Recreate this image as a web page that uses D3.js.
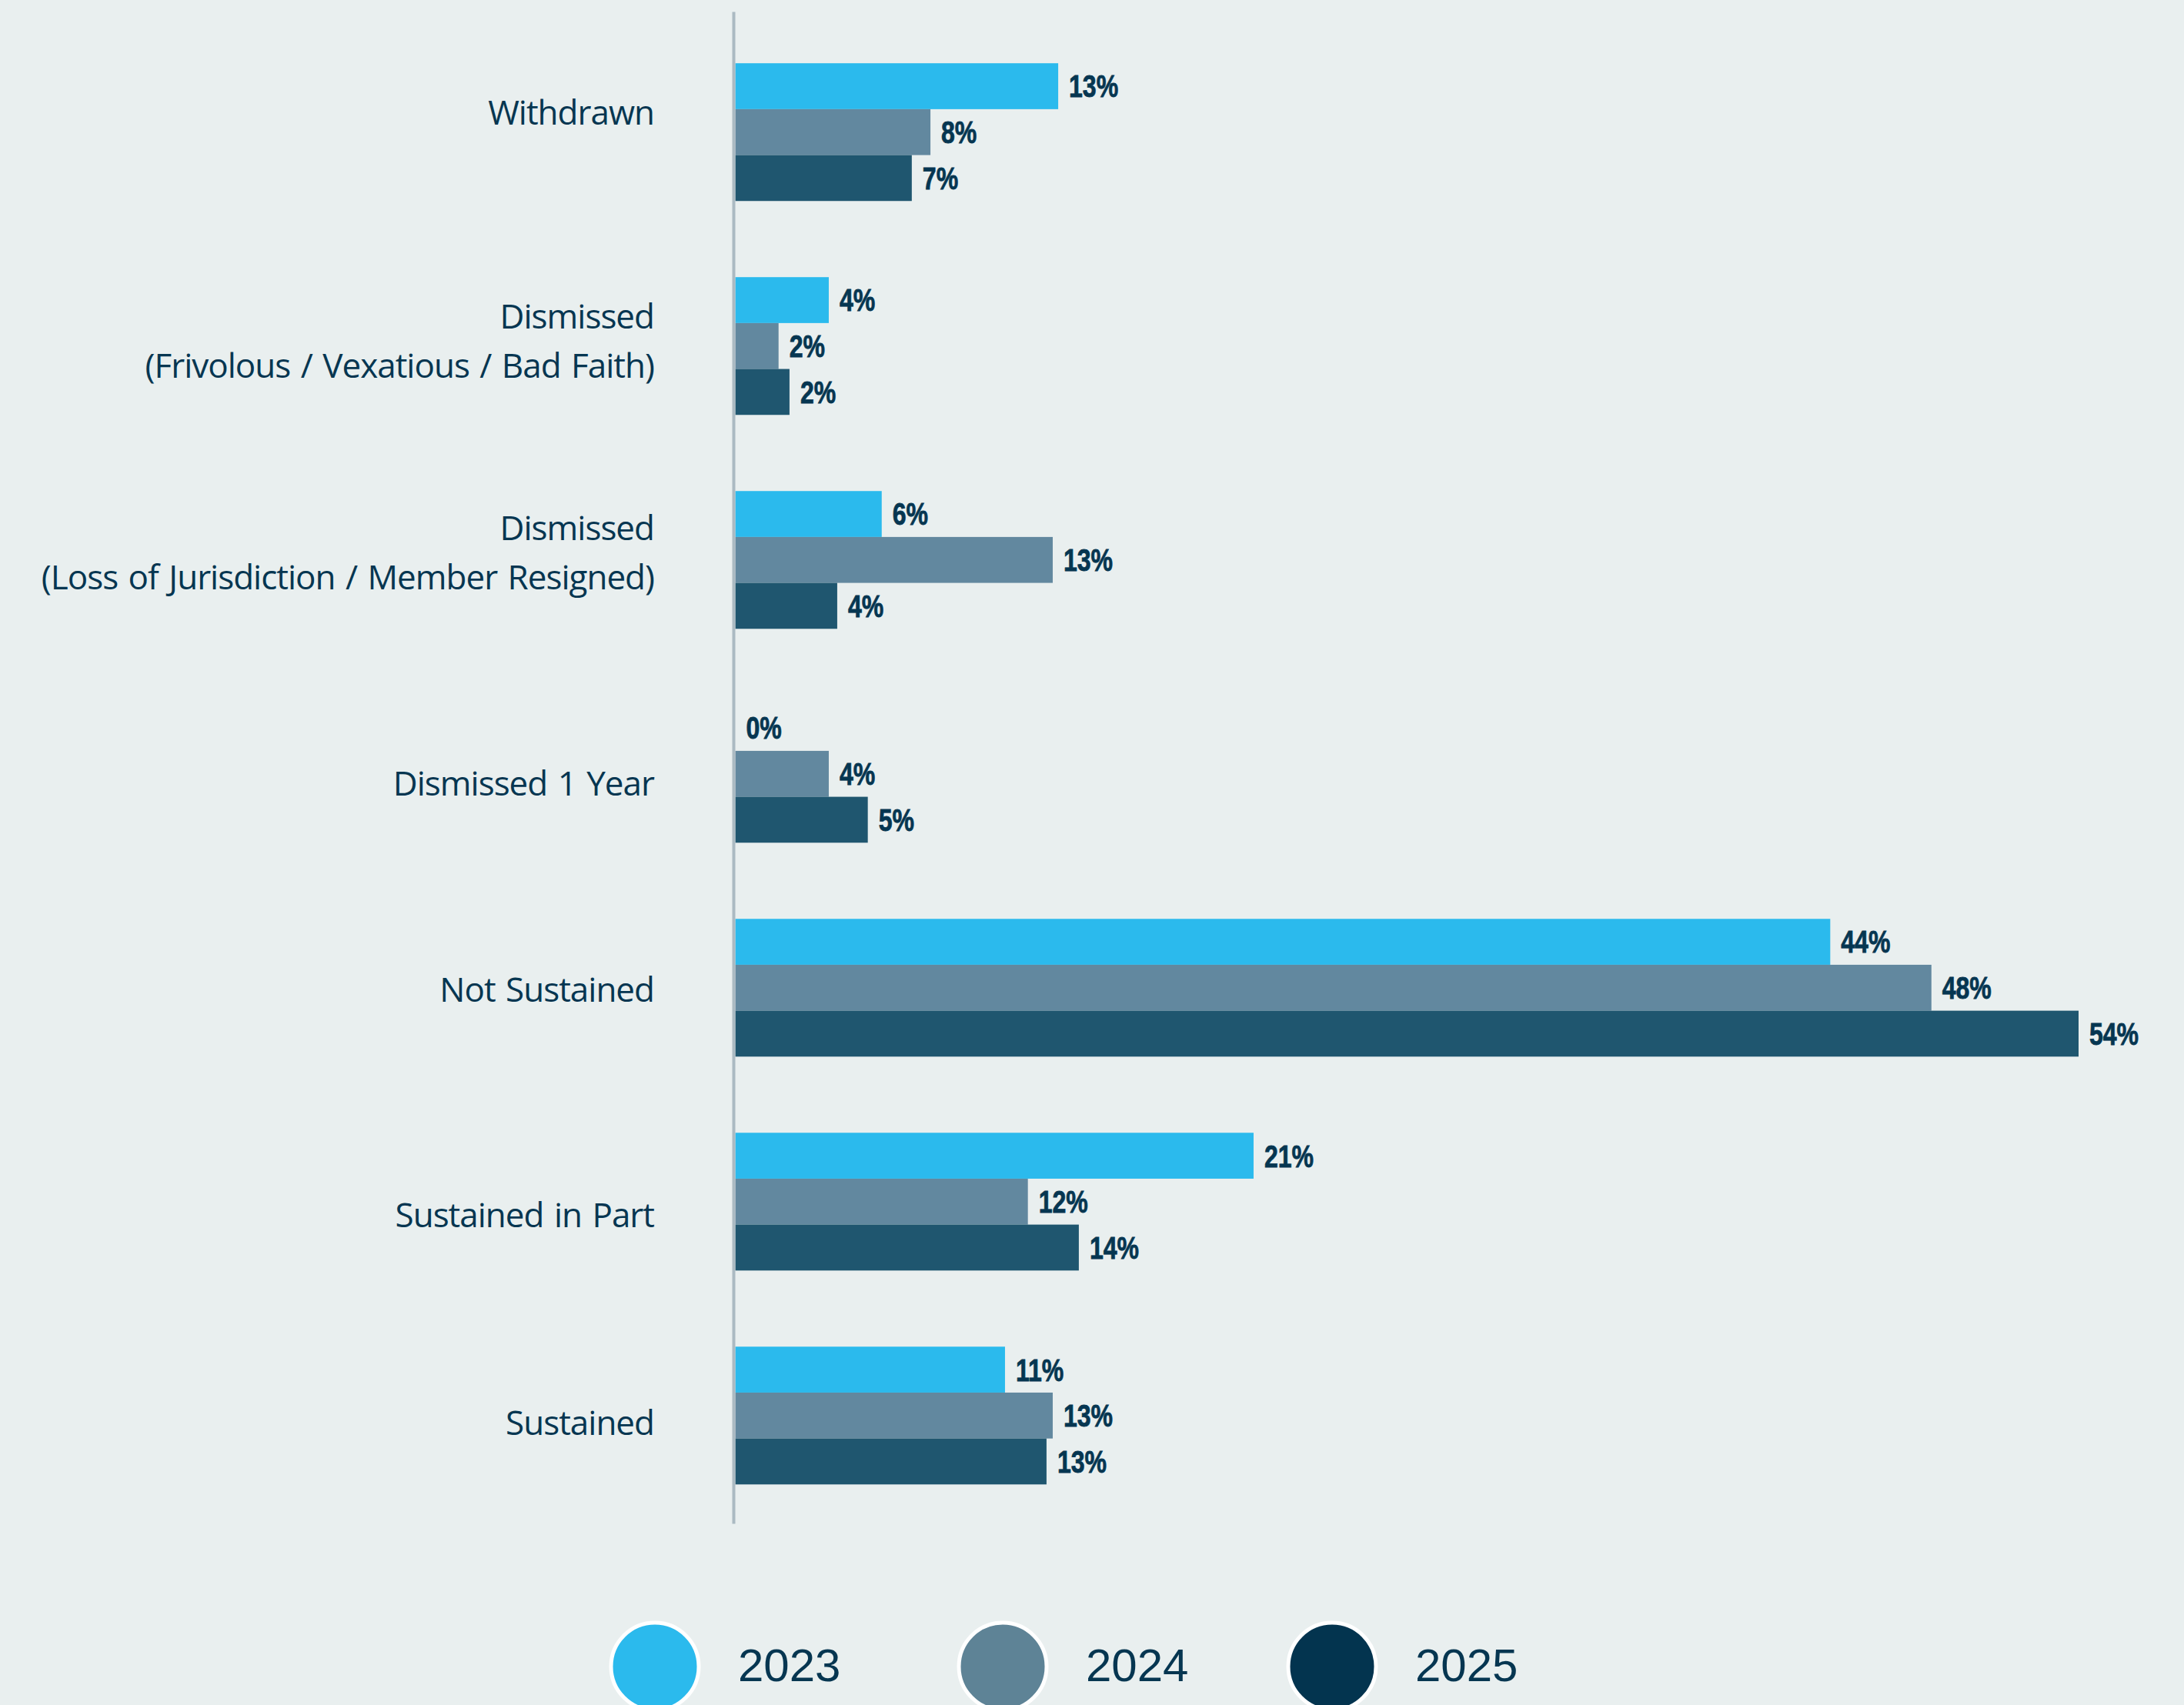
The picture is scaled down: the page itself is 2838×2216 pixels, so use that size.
<!DOCTYPE html>
<html lang="en">
  <head>
    <meta charset="UTF-8" />
    <title>Complaint Outcomes by Year</title>
    <script src="https://d3js.org/d3.v7.min.js"></script>
    <style>
      body {
        margin: 0;
        background-color: #e9efef;
      }
      .catLabel {
        font-family: "Open Sans", sans-serif;
        font-size: 44px;
        letter-spacing: -1px;
        word-spacing: 3px;
        fill: #063651;
      }
      .valLabel {
        font-family: "Liberation Sans", Arial, sans-serif;
        font-weight: bold;
        font-size: 40px;
        fill: #063651;
        stroke: #063651;
        stroke-width: 0.8px;
      }
      .legendLabel {
        font-family: "Liberation Sans", Arial, sans-serif;
        font-size: 60px;
        fill: #063651;
      }
    </style>
  </head>
  <body>
    <div id="container"></div>
    <script>
      // chart data (percent of closed complaints)
      const categories = [
        "Withdrawn",
        "Dismissed\n(Frivolous / Vexatious / Bad Faith)",
        "Dismissed\n(Loss of Jurisdiction / Member Resigned)",
        "Dismissed 1 Year",
        "Not Sustained",
        "Sustained in Part",
        "Sustained"
      ];
      const years = ["2023", "2024", "2025"];
      const values2023 = [12.99, 3.76, 5.89, 0, 44.05, 20.85, 10.85];
      const values2024 = [7.85, 1.74, 12.77, 3.76, 48.12, 11.77, 12.77];
      const values2025 = [7.1, 2.18, 4.1, 5.33, 54.04, 13.82, 12.52];

      const barColors = ["#2bbaed", "#62889f", "#1f566f"];
      const legendColors = ["#2bbaed", "#5e8396", "#03344f"];
      // small vertical nudges for the category labels, as in the original layout
      const labelNudge = [-25, -6, -9, 12, 2, 17, 9];
      const legendCenters = [851, 1303, 1731];

      const width = 2838;
      const height = 2216;

      const svg = d3
        .select("#container")
        .append("svg")
        .attr("width", width)
        .attr("height", height);

      svg
        .append("rect")
        .attr("width", width)
        .attr("height", height)
        .attr("fill", "#e9efef");

      const rows = categories.map(function (c, i) {
        return {
          category: c,
          values: [values2023[i], values2024[i], values2025[i]]
        };
      });

      const y = d3
        .scaleBand()
        .domain(categories)
        .range([15, 1980])
        .paddingInner(0.356)
        .paddingOuter(0.212)
        .align(0.57);

      const ySub = d3
        .scaleBand()
        .domain(years)
        .range([0, y.bandwidth()]);

      const x = d3
        .scaleLinear()
        .domain([0, 60])
        .range([955.5, 955.5 + 60 * 32.3]);

      const groups = svg
        .selectAll("g.row")
        .data(rows)
        .enter()
        .append("g")
        .attr("class", "row")
        .attr("transform", function (d) {
          return "translate(0," + y(d.category) + ")";
        });

      const bars = groups
        .selectAll("g.bar")
        .data(function (d) {
          return d.values.map(function (v, j) {
            return { year: years[j], value: v, idx: j };
          });
        })
        .enter()
        .append("g")
        .attr("class", "bar");

      bars
        .append("rect")
        .attr("x", x(0))
        .attr("y", function (d) {
          return ySub(d.year);
        })
        .attr("width", function (d) {
          return x(d.value) - x(0);
        })
        .attr("height", ySub.bandwidth())
        .attr("fill", function (d) {
          return barColors[d.idx];
        });

      // condensed bold labels: narrow the regular bold face horizontally
      bars
        .append("text")
        .attr("class", "valLabel")
        .attr("transform", function (d) {
          return (
            "translate(" +
            (x(d.value) + 14) +
            "," +
            (ySub(d.year) + ySub.bandwidth() / 2) +
            ") scale(0.8,1)"
          );
        })
        .attr("dy", "0.36em")
        .text(function (d) {
          return Math.round(d.value) + "%";
        });

      // axis line (no ticks)
      const axis = svg
        .append("g")
        .attr("transform", "translate(953,0)")
        .call(d3.axisLeft(y).tickSize(0).tickFormat(""));
      axis.select(".domain").attr("stroke", "#abbac2").attr("stroke-width", 4);

      // category labels, right aligned next to the axis
      const capH = 31.5;
      const lineH = 64;
      svg
        .selectAll("text.catLabel")
        .data(categories)
        .enter()
        .append("text")
        .attr("class", "catLabel")
        .attr("text-anchor", "end")
        .each(function (d, i) {
          const lines = d.split("\n");
          const cy = y(d) + y.bandwidth() / 2 + labelNudge[i];
          const t = d3.select(this);
          lines.forEach(function (line, k) {
            t.append("tspan")
              .attr("x", 850)
              .attr("y", cy + capH / 2 + (k - (lines.length - 1) / 2) * lineH)
              .text(line);
          });
        });

      // legend
      const legend = svg
        .selectAll("g.legend")
        .data(years)
        .enter()
        .append("g")
        .attr("class", "legend")
        .attr("transform", function (d, i) {
          return "translate(" + legendCenters[i] + ",2166)";
        });

      legend
        .append("circle")
        .attr("r", 57)
        .attr("fill", function (d, i) {
          return legendColors[i];
        })
        .attr("stroke", "#ffffff")
        .attr("stroke-width", 5);

      legend
        .append("text")
        .attr("class", "legendLabel")
        .attr("x", 108)
        .attr("y", -3)
        .attr("dy", "0.36em")
        .text(function (d) {
          return d;
        });
    </script>
  </body>
</html>
